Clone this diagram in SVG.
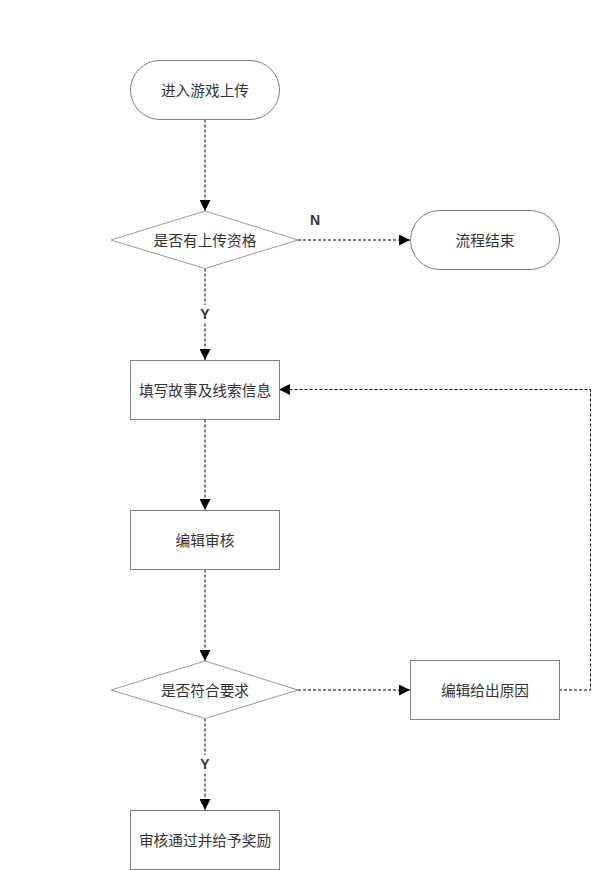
<svg xmlns="http://www.w3.org/2000/svg" width="593" height="870" viewBox="0 0 593 870">
<defs>
<marker id="ah" viewBox="0 0 10 10" refX="10" refY="5" markerWidth="11" markerHeight="11" markerUnits="userSpaceOnUse" orient="auto">
<path d="M0,0 L10,5 L0,10 Z" fill="#000"/>
</marker>
</defs>
<style>
.shape{fill:#fff;stroke:#808080;stroke-width:1}
.dia{fill:#fff;stroke:#999;stroke-width:1}
.t{font-family:"Noto Sans CJK SC","Liberation Sans",sans-serif;font-size:14.7px;fill:#333;text-anchor:middle;dominant-baseline:central}
.lbl{font-family:"Liberation Sans",Arial,sans-serif;font-size:14px;font-weight:bold;fill:#333;text-anchor:middle;dominant-baseline:central}
.c{fill:none;stroke:#000;stroke-width:1;stroke-dasharray:3 2;marker-end:url(#ah)}
</style>
<rect width="593" height="870" fill="#fff"/>
<g id="connectors">
<path class="c" d="M205,119.5 V211"/>
<path class="c" d="M298,240 H410"/>
<path class="c" d="M205,268.5 V360"/>
<path class="c" d="M205,419.5 V510"/>
<path class="c" d="M205,569.5 V661"/>
<path class="c" d="M298,690 H410"/>
<path class="c" d="M559,690 H590.5 V389.5 H279"/>
<path class="c" d="M205,718.5 V810"/>
<rect x="306" y="211" width="18" height="18" fill="#fff"/>
<text class="lbl" x="315" y="220">N</text>
<rect x="196" y="305" width="18" height="18" fill="#fff"/>
<text class="lbl" x="205" y="314">Y</text>
<rect x="196" y="755" width="18" height="18" fill="#fff"/>
<text class="lbl" x="205" y="764">Y</text>
</g>
<g id="start">
<rect class="shape" x="130.5" y="60.5" width="149" height="59" rx="29.5"/>
<text class="t" x="205" y="89.5">进入游戏上传</text>
</g>
<g id="check-qual">
<path class="dia" d="M205,211 L298,240 L205,268.5 L111,240 Z"/>
<text class="t" x="205" y="239.5">是否有上传资格</text>
</g>
<g id="end">
<rect class="shape" x="410.5" y="210.5" width="149" height="59" rx="29.5"/>
<text class="t" x="485" y="239.5">流程结束</text>
</g>
<g id="fill-info">
<rect class="shape" x="130.5" y="360.5" width="149" height="59"/>
<text class="t" x="205" y="389.5">填写故事及线索信息</text>
</g>
<g id="review">
<rect class="shape" x="130.5" y="510.5" width="149" height="59"/>
<text class="t" x="205" y="539.5">编辑审核</text>
</g>
<g id="check-req">
<path class="dia" d="M205,661 L298,690 L205,718.5 L111,690 Z"/>
<text class="t" x="205" y="689.5">是否符合要求</text>
</g>
<g id="reason">
<rect class="shape" x="410.5" y="660.5" width="149" height="59"/>
<text class="t" x="485" y="689.5">编辑给出原因</text>
</g>
<g id="approve">
<rect class="shape" x="130.5" y="810.5" width="149" height="59"/>
<text class="t" x="205" y="839.5">审核通过并给予奖励</text>
</g>
</svg>
